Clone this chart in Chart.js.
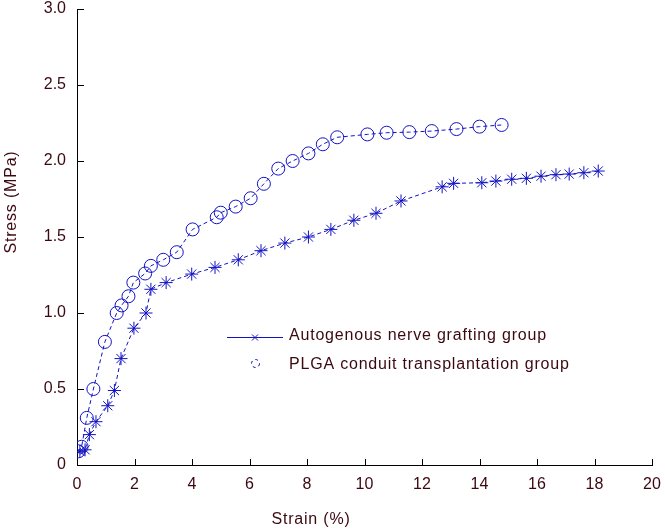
<!DOCTYPE html>
<html>
<head>
<meta charset="utf-8">
<script src="https://cdn.jsdelivr.net/npm/chart.js@4.4.1/dist/chart.umd.min.js"></script>
<style>
  html, body { margin: 0; padding: 0; background: #fff; }
  #wrap { width: 665px; height: 529px; position: relative; }
</style>
</head>
<body>
<div id="wrap"><canvas id="chart"></canvas></div>
<script>
// series values (strain %, stress MPa)
const autoStrain = [0.1, 0.28, 0.43, 0.66, 1.07, 1.3, 1.53, 1.98, 2.4, 2.57, 3.1, 3.99, 4.8, 5.61, 6.4, 7.23, 8.05, 8.83, 9.63, 10.4, 11.27, 12.7, 13.1, 14.08, 14.57, 15.12, 15.63, 16.14, 16.66, 17.12, 17.63, 18.13];
const autoStress = [0.09, 0.1, 0.2, 0.285, 0.39, 0.49, 0.7, 0.9, 1.0, 1.156, 1.2, 1.256, 1.3, 1.35, 1.41, 1.46, 1.5, 1.55, 1.61, 1.656, 1.737, 1.83, 1.853, 1.857, 1.868, 1.88, 1.886, 1.9, 1.91, 1.914, 1.923, 1.934];

const plgaStrain = [0.05, 0.16, 0.34, 0.57, 0.97, 1.38, 1.55, 1.79, 1.96, 2.37, 2.57, 3.0, 3.47, 4.02, 4.86, 5.0, 5.52, 6.04, 6.5, 7.0, 7.5, 8.05, 8.55, 9.05, 10.1, 10.77, 11.56, 12.34, 13.2, 14.0, 14.77];
const plgaStress = [0.09, 0.12, 0.31, 0.5, 0.81, 1.0, 1.05, 1.11, 1.2, 1.26, 1.31, 1.35, 1.4, 1.55, 1.63, 1.66, 1.7, 1.755, 1.85, 1.95, 2.0, 2.05, 2.11, 2.156, 2.175, 2.186, 2.19, 2.197, 2.21, 2.226, 2.237];

const seriesNames = ['Autogenous nerve grafting group', 'PLGA conduit transplantation group'];
const xLabel = 'Strain (%)';
const yLabel = 'Stress (MPa)';

const BLUE = '#1212c4';
const TEXT = '#3c0810';
const FONT = '"Liberation Sans", Arial, sans-serif';

function toPoints(xs, ys) {
    return xs.map((x, i) => ({ x: x, y: ys[i] }));
}

// inward tick marks, axis titles and the in-plot legend
const decorations = {
    id: 'decorations',
    afterDraw(chart) {
        const ctx = chart.ctx;
        const area = chart.chartArea;
        const xs = chart.scales.x;
        const ys = chart.scales.y;
        ctx.save();
        ctx.strokeStyle = '#000';
        ctx.lineWidth = 1;
        ctx.beginPath();
        xs.ticks.forEach(t => {
            const px = Math.round(xs.getPixelForValue(t.value)) + 0.5;
            ctx.moveTo(px, area.bottom);
            ctx.lineTo(px, area.bottom - 6);
        });
        ys.ticks.forEach(t => {
            const py = Math.round(ys.getPixelForValue(t.value)) + 0.5;
            ctx.moveTo(area.left, py);
            ctx.lineTo(area.left + 7, py);
        });
        ctx.stroke();

        ctx.fillStyle = TEXT;
        ctx.font = '16px ' + FONT;
        ctx.letterSpacing = '0.8px';
        ctx.textBaseline = 'middle';
        ctx.textAlign = 'center';
        ctx.fillText(xLabel, 311, 520);
        ctx.save();
        ctx.translate(12, 202);
        ctx.rotate(-Math.PI / 2);
        ctx.fillText(yLabel, 0, 0);
        ctx.restore();

        // legend
        ctx.textAlign = 'left';
        ctx.fillText(seriesNames[0], 289, 336);
        ctx.fillText(seriesNames[1], 289, 365);
        ctx.strokeStyle = BLUE;
        ctx.beginPath();
        ctx.moveTo(227, 337.5);
        ctx.lineTo(283, 337.5);
        ctx.moveTo(252, 334.5);
        ctx.lineTo(258, 340.5);
        ctx.moveTo(258, 334.5);
        ctx.lineTo(252, 340.5);
        ctx.stroke();
        ctx.setLineDash([3, 3]);
        ctx.beginPath();
        ctx.arc(255.5, 363.5, 4, 0, Math.PI * 2);
        ctx.stroke();
        ctx.restore();
    }
};

new Chart(document.getElementById('chart'), {
    type: 'scatter',
    data: {
        datasets: [{
            label: seriesNames[0],
            data: toPoints(autoStrain, autoStress),
            showLine: true,
            borderColor: BLUE,
            borderWidth: 1,
            borderDash: [4, 3],
            pointStyle: 'star',
            pointRadius: 6.5,
            pointBorderColor: BLUE,
            pointBorderWidth: 1,
            pointBackgroundColor: BLUE
        }, {
            label: seriesNames[1],
            data: toPoints(plgaStrain, plgaStress),
            showLine: true,
            borderColor: BLUE,
            borderWidth: 1,
            borderDash: [4, 3],
            pointStyle: 'circle',
            pointRadius: 6.5,
            pointBorderColor: BLUE,
            pointBorderWidth: 1,
            pointBackgroundColor: 'rgba(0,0,0,0)'
        }]
    },
    options: {
        responsive: true,
        maintainAspectRatio: false,
        animation: false,
        layout: { padding: { top: 9, right: 13, left: 0, bottom: 0 } },
        plugins: {
            legend: { display: false },
            tooltip: { enabled: false }
        },
        scales: {
            x: {
                type: 'linear',
                min: 0,
                max: 20,
                grid: { display: false, drawTicks: false },
                border: { display: true, color: '#000', width: 1 },
                ticks: {
                    stepSize: 2,
                    padding: 10,
                    color: TEXT,
                    font: { family: FONT, size: 16 }
                },
                afterFit(scale) {
                    scale.height = 64;
                    scale.paddingLeft = 0;
                    scale.paddingRight = 0;
                }
            },
            y: {
                type: 'linear',
                min: 0,
                max: 3,
                grid: { display: false, drawTicks: false },
                border: { display: true, color: '#000', width: 1 },
                ticks: {
                    stepSize: 0.5,
                    padding: 11,
                    color: TEXT,
                    font: { family: FONT, size: 16 },
                    callback: v => v === 0 ? '0' : v.toFixed(1)
                },
                afterFit(scale) {
                    scale.width = 77;
                    scale.paddingTop = 0;
                    scale.paddingBottom = 0;
                }
            }
        }
    },
    plugins: [decorations]
});
</script>
</body>
</html>
